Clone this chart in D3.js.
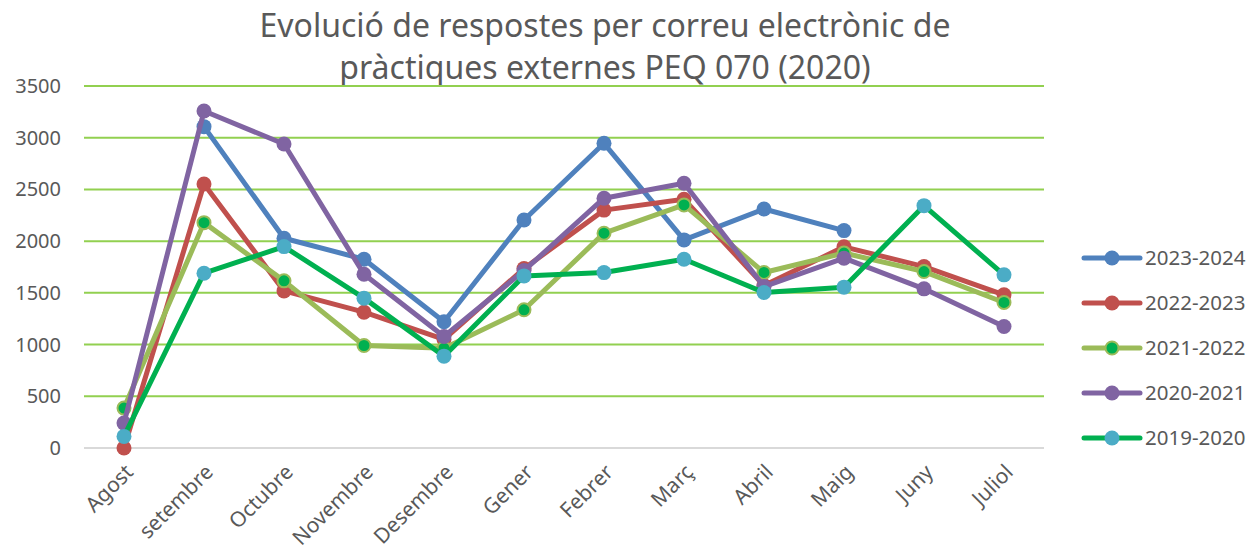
<!DOCTYPE html>
<html>
<head>
<meta charset="utf-8">
<script src="https://cdn.jsdelivr.net/npm/d3@7"></script>
<style>
  body { margin: 0; background: #fff; }
  text { font-family: "Noto Sans", sans-serif; fill: #595959; }
</style>
</head>
<body>
<svg id="chart" width="1250" height="556"></svg>
<script>
// mesos del curs (eix x)
const months = ["Agost", "setembre", "Octubre", "Novembre", "Desembre", "Gener",
  "Febrer", "Març", "Abril", "Maig", "Juny", "Juliol"];
const yTicks = [0, 500, 1000, 1500, 2000, 2500, 3000, 3500];

// respostes per curs (null = sense dada)
const s2023 = [null, 3107, 2028, 1825, 1220, 2205, 2946, 2012, 2311, 2102, null, null];
const s2022 = [0, 2553, 1519, 1313, 1050, 1735, 2300, 2405, 1570, 1945, 1754, 1481];
const s2021 = [386, 2179, 1616, 991, 965, 1336, 2077, 2350, 1697, 1885, 1706, 1407];
const s2020 = [241, 3258, 2939, 1680, 1078, 1715, 2415, 2560, 1561, 1835, 1539, 1175];
const s2019 = [112, 1690, 1947, 1449, 888, 1664, 1696, 1825, 1503, 1555, 2343, 1674];

const series = [
  { name: "2023-2024", values: s2023, line: "#4F81BD", fill: "#4F81BD", stroke: "none" },
  { name: "2022-2023", values: s2022, line: "#C0504D", fill: "#C0504D", stroke: "none" },
  { name: "2021-2022", values: s2021, line: "#9BBB59", fill: "#00B050", stroke: "#9BBB59" },
  { name: "2020-2021", values: s2020, line: "#8064A2", fill: "#8064A2", stroke: "none" },
  { name: "2019-2020", values: s2019, line: "#00B050", fill: "#4BACC6", stroke: "none" }
];

const svg = d3.select("#chart");
const plotLeft = 84, plotRight = 1044, plotTop = 86, plotBottom = 448;

const x = d3.scaleBand().domain(months).range([plotLeft, plotRight]);
const y = d3.scaleLinear().domain([0, 3500]).range([plotBottom, plotTop]);

// títol en dues línies
const title = svg.append("text")
  .attr("text-anchor", "middle")
  .style("font-size", "32px");
title.append("tspan").attr("x", 605).attr("y", 37)
  .text("Evolució de respostes per correu electrònic de");
title.append("tspan").attr("x", 605).attr("y", 79)
  .text("pràctiques externes PEQ 070 (2020)");

// línies de quadrícula
svg.append("g")
  .selectAll("line")
  .data(yTicks.filter(d => d > 0))
  .join("line")
  .attr("x1", plotLeft).attr("x2", plotRight)
  .attr("y1", d => y(d)).attr("y2", d => y(d))
  .attr("stroke", "#92D050")
  .attr("stroke-width", 2);

svg.append("line")
  .attr("x1", plotLeft).attr("x2", plotRight)
  .attr("y1", y(0)).attr("y2", y(0))
  .attr("stroke", "#D9D9D9")
  .attr("stroke-width", 2);

// eix y
svg.append("g")
  .selectAll("text")
  .data(yTicks)
  .join("text")
  .attr("x", 61)
  .attr("y", d => y(d))
  .attr("dy", "0.35em")
  .attr("text-anchor", "end")
  .style("font-size", "20px")
  .text(d => d);

// eix x, etiquetes girades
svg.append("g")
  .selectAll("text")
  .data(months)
  .join("text")
  .attr("text-anchor", "end")
  .attr("transform", d => `translate(${x(d) + x.bandwidth() / 2},${463}) rotate(-45)`)
  .attr("dy", "0.7em")
  .style("font-size", "21px")
  .text(d => d);

// sèries
const line = d3.line()
  .defined(d => d != null)
  .x((d, i) => x(months[i]) + x.bandwidth() / 2)
  .y(d => y(d));

series.forEach(s => {
  const g = svg.append("g");
  g.append("path")
    .attr("d", line(s.values))
    .attr("fill", "none")
    .attr("stroke", s.line)
    .attr("stroke-width", 5)
    .attr("stroke-linejoin", "round");
  g.selectAll("circle")
    .data(s.values.map((v, i) => ({ v, i })).filter(d => d.v != null))
    .join("circle")
    .attr("cx", d => x(months[d.i]) + x.bandwidth() / 2)
    .attr("cy", d => y(d.v))
    .attr("r", s.stroke === "none" ? 7.5 : 6.5)
    .attr("fill", s.fill)
    .attr("stroke", s.stroke)
    .attr("stroke-width", s.stroke === "none" ? 0 : 2);
});

// llegenda
const legend = svg.append("g")
  .selectAll("g")
  .data(series)
  .join("g")
  .attr("transform", (d, i) => `translate(0,${258 + i * 45})`);

legend.append("line")
  .attr("x1", 1084).attr("x2", 1140)
  .attr("stroke", d => d.line)
  .attr("stroke-width", 5)
  .attr("stroke-linecap", "round");
legend.append("circle")
  .attr("cx", 1112)
  .attr("r", d => d.stroke === "none" ? 7.5 : 6.5)
  .attr("fill", d => d.fill)
  .attr("stroke", d => d.stroke)
  .attr("stroke-width", d => d.stroke === "none" ? 0 : 2);
legend.append("text")
  .attr("x", 1145)
  .attr("dy", "0.35em")
  .style("font-size", "20.5px")
  .text(d => d.name);
</script>
</body>
</html>
